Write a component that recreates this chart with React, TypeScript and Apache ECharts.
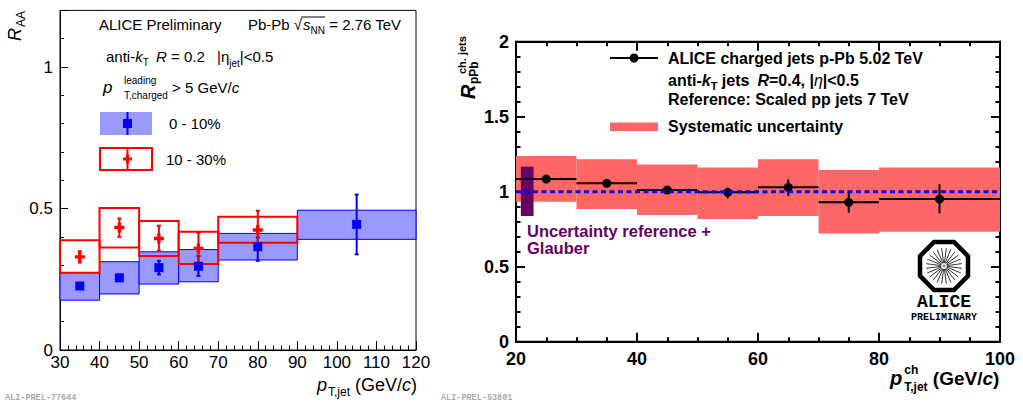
import React, { useEffect, useRef } from 'react';
import * as echarts from 'echarts';

const W = 1023;
const H = 403;
const FONT = 'Liberation Sans';
const MONO = 'Liberation Mono';

// ---------- Left panel: Pb-Pb R_AA, 0-10% ----------
const binLo010 = [30, 40, 50, 60, 70, 90];
const binHi010 = [40, 50, 60, 70, 90, 120];
const x010 = [35, 45, 55, 65, 80, 105];
const y010 = [0.226, 0.255, 0.291, 0.296, 0.365, 0.444];
const statLo010 = [0.218, 0.247, 0.267, 0.262, 0.315, 0.338];
const statHi010 = [0.234, 0.263, 0.315, 0.332, 0.398, 0.549];
const sysLo010 = [0.176, 0.198, 0.233, 0.241, 0.318, 0.391];
const sysHi010 = [0.273, 0.312, 0.347, 0.355, 0.412, 0.494];

// ---------- Left panel: 10-30% ----------
const binLo1030 = [30, 40, 50, 60, 70];
const binHi1030 = [40, 50, 60, 70, 90];
const x1030 = [35, 45, 55, 65, 80];
const y1030 = [0.329, 0.433, 0.394, 0.359, 0.424];
const statLo1030 = [0.309, 0.4, 0.351, 0.306, 0.356];
const statHi1030 = [0.349, 0.465, 0.439, 0.414, 0.492];
const sysLo1030 = [0.273, 0.362, 0.332, 0.304, 0.379];
const sysHi1030 = [0.388, 0.502, 0.456, 0.418, 0.471];

// ---------- Right panel: p-Pb R_pPb ----------
const binLoPPb = [20, 30, 40, 50, 60, 70, 80];
const binHiPPb = [30, 40, 50, 60, 70, 80, 100];
const xPPb = [25, 35, 45, 55, 65, 75, 90];
const yPPb = [1.084, 1.056, 1.011, 0.996, 1.029, 0.929, 0.951];
const statLoPPb = [1.074, 1.046, 0.996, 0.956, 0.971, 0.86, 0.856];
const statHiPPb = [1.094, 1.066, 1.026, 1.018, 1.082, 1.0, 1.051];
const sysLoPPb = [0.933, 0.884, 0.844, 0.818, 0.838, 0.722, 0.733];
const sysHiPPb = [1.238, 1.216, 1.182, 1.162, 1.216, 1.144, 1.162];
const normBox = [[20.8, 22.9, 0.838, 1.167]];
const refLine = [[20, 1], [100, 1]];

// axis ranges
const leftX = { min: 30, max: 120, step: 10 };
const leftY = { min: 0, max: 1.2, step: 0.5, minor: 0.1 };
const leftYLabels = ['0', '0.5', '1'];
const rightX = { min: 20, max: 100, step: 20 };
const rightY = { min: 0, max: 2, step: 0.5 };

const BLUE_FILL = '#9999ff';
const BLUE = '#0000ff';
const RED = '#ff0000';
const BAND = '#ff6666';
const PURPLE = '#660066';

let mctx: CanvasRenderingContext2D | null = null;
function tw(t: string, font: string) {
  if (!mctx) mctx = document.createElement('canvas').getContext('2d');
  mctx!.font = font;
  return mctx!.measureText(t).width;
}

type Seg = { t: string; size: number; it?: boolean; b?: boolean; rise?: number; at?: number; dx?: number; stack?: boolean; fill?: string };

function runs(x0: number, base: number, segs: Seg[], color = '#000', family = FONT) {
  const els: any[] = [];
  const pos: number[][] = [];
  let cx = x0;
  let lastStart = x0;
  let lastW = 0;
  for (const s of segs) {
    const font = `${s.it ? 'italic ' : ''}${s.b ? 'bold ' : ''}${s.size}px "${family}"`;
    const w = tw(s.t, font);
    const sx = s.stack ? lastStart : s.at !== undefined ? s.at : cx + (s.dx || 0);
    const yc = base - (s.rise || 0) - 0.35 * s.size;
    els.push({
      type: 'text', x: sx, y: yc, silent: true,
      style: { text: s.t, font, fill: s.fill || color, align: 'left', verticalAlign: 'middle', textAlign: 'left', textVerticalAlign: 'middle' },
    });
    pos.push([sx, sx + w]);
    if (s.stack) {
      lastW = Math.max(lastW, w);
      cx = lastStart + lastW;
    } else {
      lastStart = sx;
      lastW = w;
      cx = sx + w;
    }
  }
  return { els, pos };
}

function boxRender(fill: string | null, stroke: string | null, lw: number) {
  return (_p: any, api: any) => {
    const a = api.coord([api.value(0), api.value(3)]);
    const b = api.coord([api.value(1), api.value(2)]);
    return {
      type: 'rect',
      shape: { x: a[0], y: a[1], width: b[0] - a[0], height: b[1] - a[1] },
      style: { fill: fill || 'none', stroke: stroke || 'none', lineWidth: lw },
    };
  };
}

function errRender(color: string, lw: number, cap: number) {
  return (_p: any, api: any) => {
    const top = api.coord([api.value(0), api.value(2)]);
    const bot = api.coord([api.value(0), api.value(1)]);
    const st = { stroke: color, lineWidth: lw };
    const children: any[] = [{ type: 'line', shape: { x1: top[0], y1: top[1], x2: bot[0], y2: bot[1] }, style: st }];
    if (cap > 0) {
      children.push({ type: 'line', shape: { x1: top[0] - cap, y1: top[1], x2: top[0] + cap, y2: top[1] }, style: st });
      children.push({ type: 'line', shape: { x1: bot[0] - cap, y1: bot[1], x2: bot[0] + cap, y2: bot[1] }, style: st });
    }
    return { type: 'group', children };
  };
}

function ppbBarRender(_p: any, api: any) {
  const l = api.coord([api.value(0), api.value(3)]);
  const r = api.coord([api.value(1), api.value(3)]);
  const t = api.coord([api.value(2), api.value(5)]);
  const b = api.coord([api.value(2), api.value(4)]);
  const st = { stroke: '#000', lineWidth: 2 };
  return {
    type: 'group',
    children: [
      { type: 'line', shape: { x1: l[0], y1: l[1], x2: r[0], y2: r[1] }, style: st },
      { type: 'line', shape: { x1: t[0], y1: t[1], x2: b[0], y2: b[1] }, style: st },
    ],
  };
}

function xAxisCfg(grid: number, r: any, minorSplit: number, pos: string, labels: boolean, bold: boolean, lw: number, tickLen: number, labelSize: number, margin: number) {
  return {
    gridIndex: grid, type: 'value', position: pos, min: r.min, max: r.max, interval: r.step,
    axisLine: { show: true, onZero: false, lineStyle: { color: '#000', width: lw } },
    axisTick: { show: true, inside: true, length: tickLen, lineStyle: { color: '#000', width: lw } },
    minorTick: { show: true, splitNumber: minorSplit, length: tickLen / 2, lineStyle: { color: '#000', width: lw } },
    axisLabel: { show: labels, color: '#000', fontFamily: FONT, fontSize: labelSize, fontWeight: bold ? 'bold' : 'normal', margin },
    splitLine: { show: false }, minorSplitLine: { show: false },
  };
}

function buildOption() {
  const g: any[] = [];

  // ---- left texts ----
  g.push(...runs(99, 30, [{ t: 'ALICE Preliminary', size: 15 }]).els);
  const pb = runs(248, 30, [
    { t: 'Pb-Pb ', size: 15 },
    { t: '\u221A', size: 15 },
    { t: 's', size: 15, it: true, dx: 1 },
    { t: 'NN', size: 10, rise: -4 },
    { t: ' = 2.76 TeV', size: 15 },
  ]);
  g.push(...pb.els);
  g.push({ type: 'line', silent: true, shape: { x1: pb.pos[1][1] - 1, y1: 17, x2: pb.pos[3][1], y2: 17 }, style: { stroke: '#000', lineWidth: 1 } });

  g.push(...runs(106, 62, [
    { t: 'anti-', size: 15 },
    { t: 'k', size: 15, it: true },
    { t: 'T', size: 10, rise: -4 },
    { t: 'R', size: 15, it: true, at: 156 },
    { t: ' = 0.2', size: 15 },
    { t: '|\u03B7', size: 15, at: 217 },
    { t: 'jet', size: 10, rise: -5 },
    { t: '|<0.5', size: 15 },
  ]).els);

  g.push(...runs(103, 93, [
    { t: 'p', size: 17, it: true },
    { t: 'leading', size: 10, rise: 9, at: 124 },
    { t: 'T,charged', size: 10, rise: -6, stack: true },
    { t: ' > 5 GeV/', size: 15 },
    { t: 'c', size: 15, it: true },
  ]).els);

  // left legend
  g.push({ type: 'rect', silent: true, shape: { x: 100, y: 112, width: 52, height: 23 }, style: { fill: BLUE_FILL } });
  g.push({ type: 'line', silent: true, shape: { x1: 127.5, y1: 112, x2: 127.5, y2: 135 }, style: { stroke: BLUE, lineWidth: 2 } });
  g.push({ type: 'rect', silent: true, shape: { x: 123, y: 119, width: 9, height: 9 }, style: { fill: BLUE } });
  g.push(...runs(169, 128.5, [{ t: '0 - 10%', size: 15 }]).els);
  g.push({ type: 'rect', silent: true, shape: { x: 100, y: 148, width: 52, height: 22 }, style: { fill: 'none', stroke: RED, lineWidth: 2 } });
  g.push({ type: 'line', silent: true, shape: { x1: 127.5, y1: 148, x2: 127.5, y2: 170 }, style: { stroke: RED, lineWidth: 2 } });
  g.push({ type: 'rect', silent: true, shape: { x: 123, y: 157.5, width: 9, height: 3 }, style: { fill: RED } });
  g.push({ type: 'rect', silent: true, shape: { x: 126, y: 154.5, width: 3, height: 9 }, style: { fill: RED } });
  g.push(...runs(166, 164.5, [{ t: '10 - 30%', size: 15 }]).els);

  // left axis titles
  g.push({ type: 'group', x: 21, y: 41, rotation: Math.PI / 2, children: runs(0, 0, [
    { t: 'R', size: 18, it: true },
    { t: 'AA', size: 12, rise: -4, dx: 1 },
  ]).els });
  g.push(...runs(317, 391, [
    { t: 'p', size: 18, it: true },
    { t: 'T,jet', size: 12, rise: -5, dx: 1 },
    { t: ' (GeV/', size: 18 },
    { t: 'c', size: 18, it: true },
    { t: ')', size: 18 },
  ]).els);

  // ---- right texts ----
  g.push({ type: 'line', silent: true, shape: { x1: 610, y1: 58, x2: 658, y2: 58 }, style: { stroke: '#000', lineWidth: 2 } });
  g.push({ type: 'circle', silent: true, shape: { cx: 634, cy: 58, r: 4.5 }, style: { fill: '#000' } });
  g.push(...runs(668, 64, [{ t: 'ALICE charged jets p-Pb 5.02 TeV', size: 16, b: true }]).els);
  g.push(...runs(668, 86, [
    { t: 'anti-', size: 16, b: true },
    { t: 'k', size: 16, b: true, it: true },
    { t: 'T', size: 11, b: true, rise: -4 },
    { t: ' jets', size: 16, b: true },
    { t: 'R', size: 16, b: true, it: true, dx: 8 },
    { t: '=0.4, |', size: 16, b: true },
    { t: '\u03B7', size: 16, it: true },
    { t: '|<0.5', size: 16, b: true },
  ]).els);
  g.push(...runs(668, 105, [{ t: 'Reference: Scaled pp jets 7 TeV', size: 16, b: true }]).els);
  g.push({ type: 'rect', silent: true, shape: { x: 610, y: 122.5, width: 48, height: 8.5 }, style: { fill: BAND } });
  g.push(...runs(668, 132.5, [{ t: 'Systematic uncertainty', size: 16, b: true }]).els);

  g.push({
    type: 'text', silent: true, x: 527, y: 223,
    style: {
      text: 'Uncertainty reference +\nGlauber', font: `bold 16.5px "${FONT}"`, fill: PURPLE, lineHeight: 16.5,
      align: 'left', verticalAlign: 'top', textAlign: 'left', textVerticalAlign: 'top',
    },
  });

  g.push({ type: 'group', x: 475, y: 99, rotation: Math.PI / 2, children: runs(0, 0, [
    { t: 'R', size: 20, b: true, it: true },
    { t: 'pPb', size: 12, b: true, rise: -3, at: 15 },
    { t: 'ch. jets', size: 11, b: true, rise: 9, at: 25 },
  ]).els });

  g.push(...runs(890, 385, [
    { t: 'p', size: 20, b: true, it: true },
    { t: 'ch', size: 12, b: true, rise: 11, dx: 2 },
    { t: 'T,jet', size: 12, b: true, rise: -6, stack: true },
    { t: ' (GeV/', size: 19, b: true },
    { t: 'c', size: 19, b: true, it: true },
    { t: ')', size: 19, b: true },
  ]).els);

  // ALICE logo
  const cx = 944, cy = 266, apo = 24;
  const rv = apo / Math.cos(Math.PI / 8);
  const oct: number[][] = [];
  for (let k = 0; k < 8; k++) {
    const a = Math.PI / 8 + (k * Math.PI) / 4;
    oct.push([cx + rv * Math.cos(a), cy + rv * Math.sin(a)]);
  }
  g.push({ type: 'polygon', silent: true, shape: { points: oct }, style: { fill: '#fff', stroke: '#000', lineWidth: 4.5 } });
  for (let k = 0; k < 24; k++) {
    const a = (k * Math.PI) / 12 + 0.13;
    g.push({ type: 'line', silent: true, shape: { x1: cx + 3 * Math.cos(a), y1: cy + 3 * Math.sin(a), x2: cx + 18 * Math.cos(a), y2: cy + 18 * Math.sin(a) }, style: { stroke: '#000', lineWidth: 0.8 } });
  }
  g.push({ type: 'circle', silent: true, shape: { cx, cy, r: 1.5 }, style: { fill: '#888' } });
  g.push({ type: 'text', silent: true, x: cx, y: 301.5, style: { text: 'ALICE', font: `bold 18px "${MONO}"`, fill: '#000', align: 'center', verticalAlign: 'middle', textAlign: 'center', textVerticalAlign: 'middle' } });
  g.push({ type: 'text', silent: true, x: cx, y: 317, style: { text: 'PRELIMINARY', font: `bold 10px "${MONO}"`, fill: '#000', align: 'center', verticalAlign: 'middle', textAlign: 'center', textVerticalAlign: 'middle' } });

  // ALI-PREL labels
  g.push({ type: 'text', silent: true, x: 5, y: 398, style: { text: 'ALI-PREL-77644', font: `bold 8.5px "${MONO}"`, fill: '#aaaaaa', align: 'left', verticalAlign: 'middle', textAlign: 'left', textVerticalAlign: 'middle' } });
  g.push({ type: 'text', silent: true, x: 441, y: 398, style: { text: 'ALI-PREL-53801', font: `bold 8.5px "${MONO}"`, fill: '#aaaaaa', align: 'left', verticalAlign: 'middle', textAlign: 'left', textVerticalAlign: 'middle' } });

  const near = (v: number, t: number) => Math.abs(v - t) < 1e-6;

  return {
    animation: false,
    backgroundColor: '#fff',
    grid: [
      { left: 60, top: 10.4, width: 356, height: 339.6, show: true, borderColor: '#000', borderWidth: 1, backgroundColor: 'transparent', containLabel: false, outerBoundsMode: 'none' },
      { left: 516, top: 41.7, width: 484, height: 300, show: true, borderColor: '#000', borderWidth: 2, backgroundColor: 'transparent', containLabel: false, outerBoundsMode: 'none' },
    ],
    xAxis: [
      xAxisCfg(0, leftX, 5, 'bottom', true, false, 1, 9, 17, 4),
      xAxisCfg(1, rightX, 4, 'bottom', true, true, 2, 9, 18, 8),
      xAxisCfg(1, rightX, 4, 'top', false, true, 2, 9, 18, 6),
    ],
    yAxis: [
      {
        gridIndex: 0, type: 'value', position: 'left', min: leftY.min, max: leftY.max, interval: leftY.step,
        axisLine: { show: true, onZero: false, lineStyle: { color: '#000', width: 1 } },
        axisTick: { show: true, inside: true, length: 8, lineStyle: { color: '#000', width: 1 } },
        minorTick: { show: false },
        axisLabel: {
          show: true, color: '#000', fontFamily: FONT, fontSize: 17, margin: 7,
          formatter: (v: number) => (near(v, 0) ? leftYLabels[0] : near(v, 0.5) ? leftYLabels[1] : near(v, 1) ? leftYLabels[2] : ''),
        },
        splitLine: { show: false },
      },
      {
        gridIndex: 0, type: 'value', position: 'left', min: leftY.min, max: leftY.max, interval: leftY.minor,
        axisLine: { show: false },
        axisTick: { show: true, inside: true, length: 4, lineStyle: { color: '#000', width: 1 } },
        axisLabel: { show: false },
        splitLine: { show: false },
      },
      {
        gridIndex: 1, type: 'value', position: 'left', min: rightY.min, max: rightY.max, interval: rightY.step,
        axisLine: { show: true, onZero: false, lineStyle: { color: '#000', width: 2 } },
        axisTick: { show: true, inside: true, length: 9, lineStyle: { color: '#000', width: 2 } },
        minorTick: { show: true, splitNumber: 5, length: 4.5, lineStyle: { color: '#000', width: 2 } },
        axisLabel: { show: true, color: '#000', fontFamily: FONT, fontSize: 18, fontWeight: 'bold', margin: 7 },
        splitLine: { show: false }, minorSplitLine: { show: false },
      },
      {
        gridIndex: 1, type: 'value', position: 'right', min: rightY.min, max: rightY.max, interval: rightY.step,
        axisLine: { show: true, onZero: false, lineStyle: { color: '#000', width: 2 } },
        axisTick: { show: true, inside: true, length: 9, lineStyle: { color: '#000', width: 2 } },
        minorTick: { show: true, splitNumber: 5, length: 4.5, lineStyle: { color: '#000', width: 2 } },
        axisLabel: { show: false },
        splitLine: { show: false }, minorSplitLine: { show: false },
      },
    ],
    series: [
      // left panel
      {
        type: 'custom', xAxisIndex: 0, yAxisIndex: 0, clip: false,
        renderItem: boxRender(BLUE_FILL, BLUE, 1),
        data: binLo010.map((lo, i) => [lo, binHi010[i], sysLo010[i], sysHi010[i]]),
      },
      {
        type: 'custom', xAxisIndex: 0, yAxisIndex: 0, clip: false,
        renderItem: boxRender(null, RED, 2),
        data: binLo1030.map((lo, i) => [lo, binHi1030[i], sysLo1030[i], sysHi1030[i]]),
      },
      {
        type: 'custom', xAxisIndex: 0, yAxisIndex: 0, clip: false,
        renderItem: errRender(BLUE, 2, 2),
        data: x010.map((x, i) => [x, statLo010[i], statHi010[i]]),
      },
      {
        type: 'scatter', xAxisIndex: 0, yAxisIndex: 0, symbol: 'rect', symbolSize: 9,
        itemStyle: { color: BLUE, opacity: 1 },
        data: x010.map((x, i) => [x, y010[i]]),
      },
      {
        type: 'custom', xAxisIndex: 0, yAxisIndex: 0, clip: false,
        renderItem: errRender(RED, 2, 2),
        data: x1030.map((x, i) => [x, statLo1030[i], statHi1030[i]]),
      },
      {
        type: 'scatter', xAxisIndex: 0, yAxisIndex: 0,
        symbol: 'path://M3,0H6V3H9V6H6V9H3V6H0V3H3Z', symbolSize: 10,
        itemStyle: { color: RED, opacity: 1 },
        data: x1030.map((x, i) => [x, y1030[i]]),
      },
      // right panel
      {
        type: 'custom', xAxisIndex: 1, yAxisIndex: 2, clip: false,
        renderItem: boxRender(BAND, null, 0),
        data: binLoPPb.map((lo, i) => [lo, binHiPPb[i], sysLoPPb[i], sysHiPPb[i]]),
      },
      {
        type: 'line', xAxisIndex: 1, yAxisIndex: 2, symbol: 'none',
        lineStyle: { color: BLUE, width: 3, type: [5, 3.5] },
        data: refLine,
      },
      {
        type: 'custom', xAxisIndex: 1, yAxisIndex: 2, clip: false,
        renderItem: boxRender(PURPLE, null, 0),
        data: normBox,
      },
      {
        type: 'custom', xAxisIndex: 1, yAxisIndex: 2, clip: false,
        renderItem: ppbBarRender,
        data: binLoPPb.map((lo, i) => [lo, binHiPPb[i], xPPb[i], yPPb[i], statLoPPb[i], statHiPPb[i]]),
      },
      {
        type: 'scatter', xAxisIndex: 1, yAxisIndex: 2, symbol: 'circle', symbolSize: 9,
        itemStyle: { color: '#000', opacity: 1 },
        data: xPPb.map((x, i) => [x, yPPb[i]]),
      },
    ],
    graphic: { elements: g },
  };
}

export default function App() {
  const ref = useRef<HTMLDivElement>(null);
  useEffect(() => {
    const chart = echarts.init(ref.current!, null, { renderer: 'svg' });
    chart.setOption(buildOption() as any);
    return () => chart.dispose();
  }, []);
  return <div ref={ref} style={{ position: 'absolute', left: 0, top: 0, width: W, height: H, background: '#fff' }} />;
}
